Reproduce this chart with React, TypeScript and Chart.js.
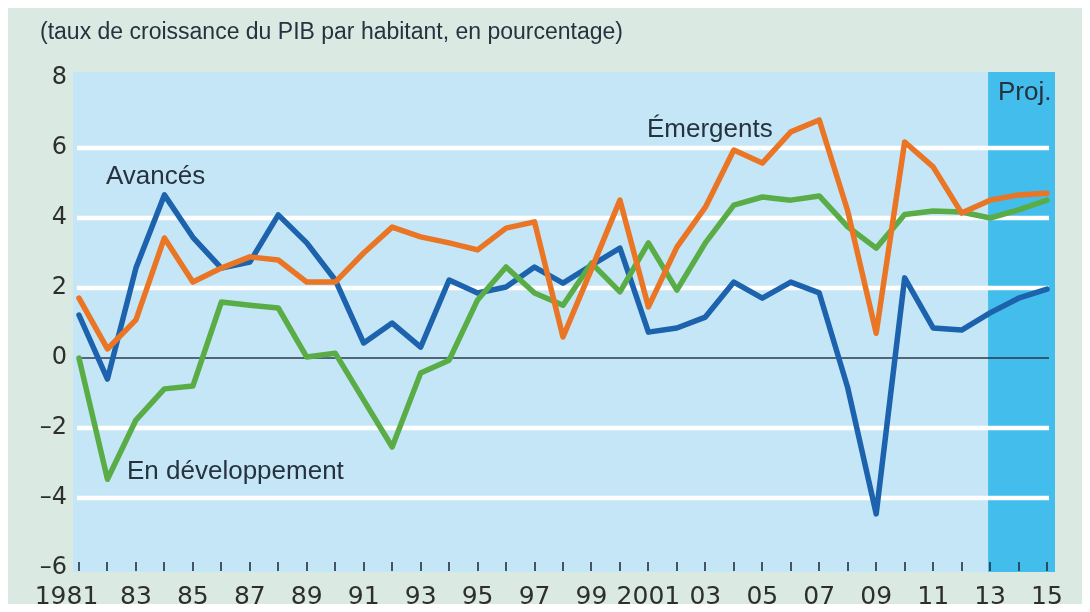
import React, { useEffect, useRef } from "react";
import { Chart, registerables } from "chart.js";

Chart.register(...registerables);

const years = [
  1981, 1982, 1983, 1984, 1985, 1986, 1987, 1988, 1989, 1990, 1991, 1992, 1993, 1994, 1995, 1996, 1997, 1998,
  1999, 2000, 2001, 2002, 2003, 2004, 2005, 2006, 2007, 2008, 2009, 2010, 2011, 2012, 2013, 2014, 2015,
];

const avances = [
  1.23, -0.6, 2.57, 4.66, 3.45, 2.57, 2.74, 4.09, 3.29, 2.23, 0.43, 1.0, 0.31, 2.23, 1.86, 2.03, 2.6, 2.14,
  2.65, 3.14, 0.74, 0.86, 1.17, 2.17, 1.71, 2.17, 1.86, -0.85, -4.45, 2.29, 0.86, 0.8, 1.29, 1.71, 1.97,
];

const emergents = [
  1.71, 0.26, 1.09, 3.43, 2.17, 2.57, 2.89, 2.8, 2.17, 2.17, 3.0, 3.74, 3.46, 3.29, 3.09, 3.71, 3.89, 0.6,
  2.54, 4.51, 1.46, 3.17, 4.31, 5.94, 5.57, 6.46, 6.8, 4.2, 0.71, 6.17, 5.46, 4.14, 4.51, 4.66, 4.71,
];

const developpement = [
  0.0, -3.46, -1.77, -0.88, -0.8, 1.6, 1.51, 1.43, 0.03, 0.14, -1.2, -2.54, -0.43, -0.06, 1.66, 2.6, 1.86, 1.51,
  2.71, 1.89, 3.29, 1.94, 3.29, 4.37, 4.6, 4.51, 4.63, 3.75, 3.14, 4.1, 4.2, 4.17, 4.0, 4.23, 4.51,
];

const xLabelYears = [1981, 1983, 1985, 1987, 1989, 1991, 1993, 1995, 1997, 1999, 2001, 2003, 2005, 2007, 2009, 2011, 2013, 2015];
const xLabels = ["1981", "83", "85", "87", "89", "91", "93", "95", "97", "99", "2001", "03", "05", "07", "09", "11", "13", "15"];

const yTickValues = [-6, -4, -2, 0, 2, 4, 6, 8];
const yTickLabels = ["\u20136", "\u20134", "\u20132", "0", "2", "4", "6", "8"];
const whiteGridValues = [-4, -2, 2, 4, 6];

const projectionStart = 2012.93;

const title = "(taux de croissance du PIB par habitant, en pourcentage)";
const seriesNames = ["Avancés", "Émergents", "En développement"];
const projLabel = "Proj.";

const OUTER_BG = "#dae9e1";
const PLOT_BG = "#c5e6f6";
const PROJ_BG = "#42bdec";
const TEXT = "#26323f";
const BLUE = "#1d62ad";
const ORANGE = "#ea7524";
const GREEN = "#5aad46";

export default function App() {
  const canvasRef = useRef<HTMLCanvasElement | null>(null);

  useEffect(() => {
    const canvas = canvasRef.current;
    if (!canvas) return;

    const decorPlugin = {
      id: "decor",
      beforeDraw(chart: any) {
        const { ctx, chartArea: a, scales } = chart;
        const x = scales.x;
        const y = scales.y;
        ctx.save();
        ctx.fillStyle = OUTER_BG;
        ctx.fillRect(0, 0, chart.width, chart.height);
        ctx.fillStyle = PLOT_BG;
        ctx.fillRect(a.left, a.top, a.right - a.left, a.bottom - a.top);
        const p0 = x.getPixelForValue(projectionStart);
        ctx.fillStyle = PROJ_BG;
        ctx.fillRect(p0, a.top, a.right - p0, a.bottom - a.top);

        const gx0 = x.getPixelForValue(years[0]) - 2;
        const gx1 = x.getPixelForValue(years[years.length - 1]) + 2;
        ctx.strokeStyle = "#ffffff";
        ctx.lineWidth = 4.5;
        for (const v of whiteGridValues) {
          const py = y.getPixelForValue(v);
          ctx.beginPath();
          ctx.moveTo(gx0, py);
          ctx.lineTo(gx1, py);
          ctx.stroke();
        }
        const zy = y.getPixelForValue(0);
        ctx.strokeStyle = "#2a3a4a";
        ctx.lineWidth = 1.5;
        ctx.beginPath();
        ctx.moveTo(gx0, zy);
        ctx.lineTo(gx1, zy);
        ctx.stroke();

        ctx.strokeStyle = "#22303e";
        ctx.lineWidth = 1.6;
        for (const yr of years) {
          const px = Math.round(x.getPixelForValue(yr));
          ctx.beginPath();
          ctx.moveTo(px, a.bottom - 10);
          ctx.lineTo(px, a.bottom - 1);
          ctx.stroke();
        }
        ctx.restore();
      },
      afterDraw(chart: any) {
        const { ctx } = chart;
        ctx.save();
        ctx.fillStyle = TEXT;
        ctx.textBaseline = "middle";
        ctx.textAlign = "left";
        ctx.font = "23px 'Liberation Sans', Arial, sans-serif";
        ctx.fillText(title, 32, 25);
        ctx.font = "26px 'Liberation Sans', Arial, sans-serif";
        ctx.fillText(seriesNames[0], 98, 169);
        ctx.fillText(seriesNames[1], 639, 122);
        ctx.fillText(seriesNames[2], 119, 464);
        ctx.fillText(projLabel, 990, 85);
        ctx.restore();
      },
    };

    const lineStyle = {
      borderWidth: 5.5,
      pointRadius: 0,
      tension: 0,
      borderJoinStyle: "round",
      borderCapStyle: "round",
    };

    const chart = new Chart(canvas, {
      type: "line",
      data: {
        datasets: [
          {
            label: seriesNames[1],
            data: years.map((yr, i) => ({ x: yr, y: emergents[i] })),
            borderColor: ORANGE,
            ...lineStyle,
          },
          {
            label: seriesNames[2],
            data: years.map((yr, i) => ({ x: yr, y: developpement[i] })),
            borderColor: GREEN,
            ...lineStyle,
          },
          {
            label: seriesNames[0],
            data: years.map((yr, i) => ({ x: yr, y: avances[i] })),
            borderColor: BLUE,
            ...lineStyle,
          },
        ],
      },
      options: {
        responsive: false,
        animation: false,
        layout: { padding: { top: 64, right: 35, left: 0, bottom: 0 } },
        plugins: {
          legend: { display: false },
          tooltip: { enabled: false },
          title: { display: false },
        },
        scales: {
          x: {
            type: "linear",
            min: 1980.79,
            max: 2015.28,
            border: { display: false },
            grid: { display: false, drawTicks: false },
            afterBuildTicks(scale: any) {
              scale.ticks = xLabelYears.map((v) => ({ value: v }));
            },
            afterFit(scale: any) {
              scale.height = 40;
            },
            ticks: {
              autoSkip: false,
              maxRotation: 0,
              minRotation: 0,
              padding: 10,
              color: "#2e2e2e",
              font: { family: "'DejaVu Sans'", size: 25 },
              callback: (v: any) => {
                const idx = xLabelYears.indexOf(Number(v));
                if (idx < 0) return "";
                return idx === 0 ? xLabels[idx] + "\u2002\u2002" : xLabels[idx];
              },
            },
          },
          y: {
            type: "linear",
            min: -6.11,
            max: 8.17,
            border: { display: false },
            grid: { display: false, drawTicks: false },
            afterBuildTicks(scale: any) {
              scale.ticks = yTickValues.map((v) => ({ value: v }));
            },
            afterFit(scale: any) {
              scale.width = 65;
            },
            ticks: {
              padding: 6,
              color: "#2e2e2e",
              font: { family: "'DejaVu Sans'", size: 24 },
              callback: (v: any) => {
                const idx = yTickValues.indexOf(Number(v));
                return idx >= 0 ? yTickLabels[idx] : "";
              },
            },
          },
        },
      },
      plugins: [decorPlugin],
    } as any);

    return () => chart.destroy();
  }, []);

  return (
    <div style={{ width: 1082, height: 604, marginBottom: -8 }}>
      <canvas ref={canvasRef} width={1082} height={604} style={{ display: "block" }} />
    </div>
  );
}
